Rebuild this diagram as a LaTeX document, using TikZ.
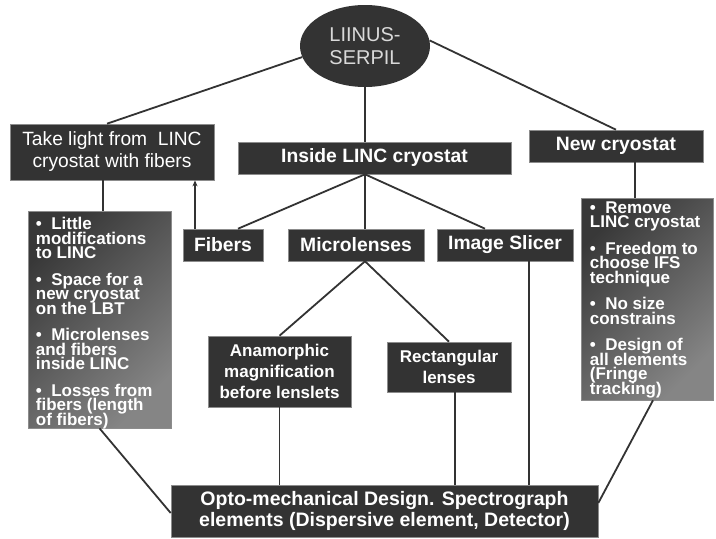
\documentclass[tikz,border=0pt]{standalone}
\usepackage{fontspec}
\setmainfont{Liberation Sans}
\usetikzlibrary{arrows.meta,positioning,shapes.geometric}
\definecolor{boxgray}{HTML}{333333}
\definecolor{rimgray}{HTML}{8C8C8C}
\definecolor{shadelo}{HTML}{383838}
\definecolor{shadehi}{HTML}{858585}
\definecolor{ovaltxt}{HTML}{D9D9D9}

\begin{document}
\begin{tikzpicture}[
    x=1pt, y=-1pt,
    every node/.style={inner sep=0pt, text=white},
    hd/.style={rectangle, draw=rimgray, line width=0.6pt, fill=boxgray, align=center,
               font=\fontsize{19.3}{22}\selectfont\bfseries},
    hdn/.style={hd, font=\fontsize{19.2}{22}\selectfont},
    sub/.style={hd, font=\fontsize{17}{21}\selectfont\bfseries},
    bx/.style={rectangle, draw=rimgray, line width=0.6pt,
               top color=shadelo, bottom color=shadehi, shading angle=45},
    txt/.style={anchor=north west, align=left,
                font={\fontsize{17}{14.5}\selectfont\bfseries\lineskiplimit=-50pt}},
    ln/.style={draw=boxgray, line width=1.8pt},
    ar/.style={ln, -{Stealth[length=6pt, width=5pt]}},
  ]
  \useasboundingbox (0,0) rectangle (716,539);
  \node[ellipse, fill=boxgray, minimum width=130pt, minimum height=82pt, align=center,
        text=ovaltxt, font=\fontsize{20}{23}\selectfont] (liinus) at (365,46) {LIINUS-\\SERPIL};
  \node[hdn, minimum width=204pt, minimum height=56pt] (take) at (112,152) {Take light from \ LINC\\cryostat with fibers};
  \node[hd, minimum width=273pt, minimum height=32pt] (inside) at (374.5,158) {Inside LINC cryostat};
  \node[hd, minimum width=174pt, minimum height=32pt] (newc) at (616,146) {New cryostat};
  \node[hd, minimum width=80pt, minimum height=32pt] (fib) at (223,245) {Fibers};
  \node[hd, minimum width=136pt, minimum height=32pt] (micro) at (356,245) {Microlenses};
  \node[hd, minimum width=136pt, minimum height=32pt] (slicer) at (505,245) {Image Slicer};
  \node[sub, minimum width=143pt, minimum height=71pt] (anam) at (279.5,371.5) {Anamorphic\\magnification\\before lenslets};
  \node[sub, minimum width=124pt, minimum height=50pt] (rect) at (449,367) {Rectangular\\lenses};
  \node[hd, font=\fontsize{19.5}{21.7}\selectfont\bfseries, minimum width=427pt, minimum height=52pt]
    (opto) at (384.5,511) {Opto-mechanical Design. Spectrograph\\elements (Dispersive element, Detector)};
  % pros and cons lists
  \node[bx, minimum width=143pt, minimum height=217pt] (lbox) at (99.5,319.5) {};
  \node[txt] (ltxt) at ([xshift=8pt, yshift=-6.4pt]lbox.north west)
    {\textbullet\ \ Little\\modifications\\to LINC\\[12pt]%
     \textbullet\ \ Space for a\\new cryostat\\on the LBT\\[12pt]%
     \textbullet\ \ Microlenses\\and fibers\\inside LINC\\[12pt]%
     \textbullet\ \ Losses from\\fibers (length\\of fibers)};
  \node[bx, minimum width=132pt, minimum height=202pt] (rbox) at (647,299) {};
  \node[txt] (rtxt) at ([xshift=9pt, yshift=-3.4pt]rbox.north west)
    {\textbullet\ \ Remove\\LINC cryostat\\[12pt]%
     \textbullet\ \ Freedom to\\choose IFS\\technique\\[12pt]%
     \textbullet\ \ No size\\constrains\\[12pt]%
     \textbullet\ \ Design of\\all elements\\(Fringe\\tracking)};
  \coordinate (hub) at (liinus.south |- inside.south);
  \draw[ln] (liinus.190) -- ([xshift=-5pt]take.north);
  \draw[ln] (liinus.south) -- (liinus.south |- inside.north);
  \draw[ln] (liinus.5) -- (newc.north);
  \draw[ln] ([xshift=-9pt]take.south) -- ([xshift=-9pt]take.south |- lbox.north);
  \draw[ar] ([xshift=-28pt]fib.north) -- ([xshift=-28pt]fib.north |- take.south);
  \draw[ln] (hub) -- ([xshift=15pt]fib.north);
  \draw[ln] (hub) -- (hub |- micro.north);
  \draw[ln] (hub) -- ([xshift=-20pt]slicer.north);
  \draw[ln] (hub |- micro.south) -- (anam.north);
  \draw[ln] (hub |- micro.south) -- (rect.north);
  \draw[ln] ([xshift=19pt]newc.south) -- ([xshift=19pt]newc.south |- rbox.north);
  \draw[ln] ([xshift=24pt]slicer.south) -- ([xshift=24pt]slicer.south |- opto.north);
  \draw[ln] (anam.south) -- (anam.south |- opto.north);
  \draw[ln] ([xshift=6pt]rect.south) -- ([xshift=6pt]rect.south |- opto.north);
  \draw[ln] (lbox.south) -- ([yshift=-2pt]opto.west);
  \draw[ln] ([xshift=6pt]rbox.south) -- ([yshift=8pt]opto.east);
\end{tikzpicture}
\end{document}
